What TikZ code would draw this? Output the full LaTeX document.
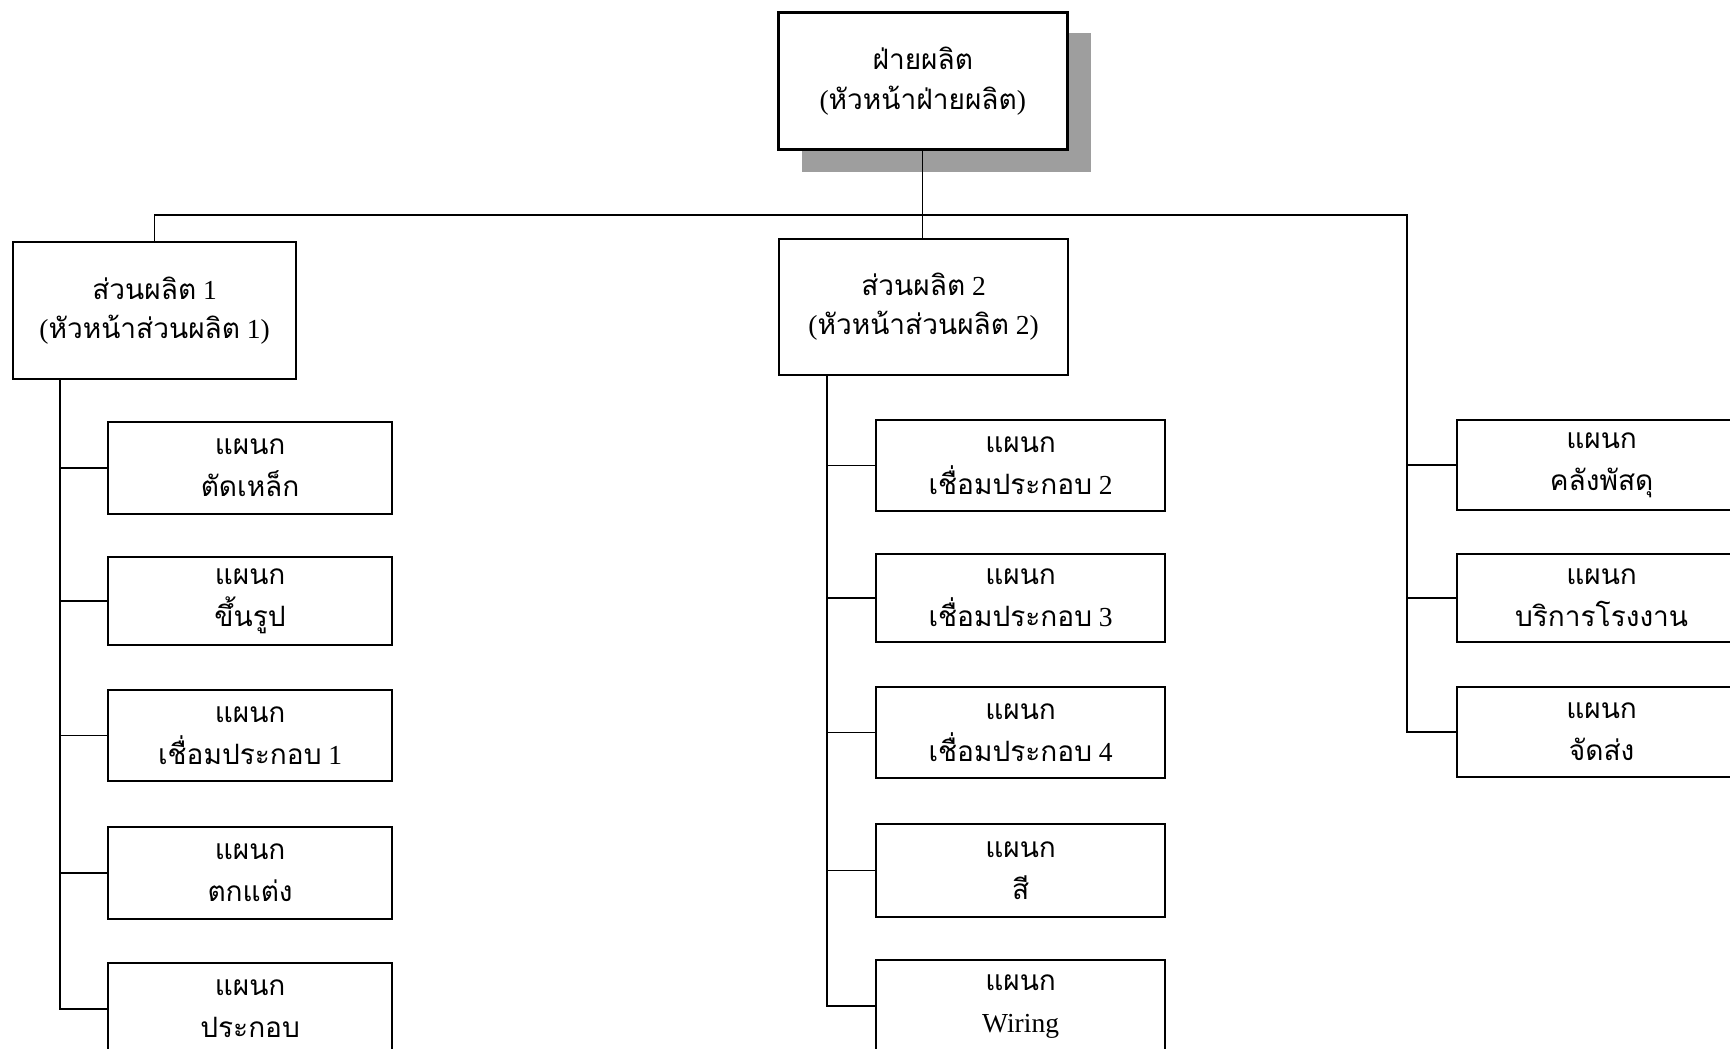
\documentclass[tikz,border=0pt]{standalone}
\usepackage{fontspec}
\setmainfont{Liberation Serif}
\newfontfamily\thai[Script=Thai,Scale=1.02]{Loma}
\newcommand{\tht}[1]{{\thai #1}}
\begin{document}
\begin{tikzpicture}[x=1pt,y=-1pt]
\tikzset{
  unitbox/.style={draw, line width=2.2pt, fill=white, align=center,
    inner sep=0pt, anchor=north west,
    font=\fontsize{27.5}{42}\selectfont},
  headbox/.style={unitbox, line width=2.6pt, font=\fontsize{27.5}{40}\selectfont},
  secbox/.style={unitbox, font=\fontsize{27.5}{39}\selectfont},
  subbox/.style={unitbox},
  link/.style={line width=1.3pt},
  shade/.style={fill=black!38, draw=none}
}
\useasboundingbox (0,0) rectangle (1730,1049);
\clip (0,0) rectangle (1730,1049);

% head of production with its drop shadow
\fill[shade] (802,33) rectangle (1091,172);
\node[headbox, minimum width=289pt, minimum height=137pt] (top) at (777,11)
  {\tht{ฝ่ายผลิต}\\(\tht{หัวหน้าฝ่ายผลิต})};

% production sections
\node[secbox, minimum width=283pt, minimum height=137pt] (prod1) at (12,241)
  {\tht{ส่วนผลิต} 1\\(\tht{หัวหน้าส่วนผลิต} 1)};
\node[secbox, minimum width=289pt, minimum height=136pt] (prod2) at (778,238)
  {\tht{ส่วนผลิต} 2\\(\tht{หัวหน้าส่วนผลิต} 2)};

% departments under section 1
\node[subbox, minimum width=284pt, minimum height=92pt] (a1) at (107,421) {\tht{แผนก}\\\tht{ตัดเหล็ก}};
\node[subbox, minimum width=284pt, minimum height=88pt] (a2) at (107,556) {\tht{แผนก}\\\tht{ขึ้นรูป}};
\node[subbox, minimum width=284pt, minimum height=91pt] (a3) at (107,689) {\tht{แผนก}\\\tht{เชื่อมประกอบ} 1};
\node[subbox, minimum width=284pt, minimum height=92pt] (a4) at (107,826) {\tht{แผนก}\\\tht{ตกแต่ง}};
\node[subbox, minimum width=284pt, minimum height=92pt] (a5) at (107,962) {\tht{แผนก}\\\tht{ประกอบ}};

% departments under section 2
\node[subbox, minimum width=289pt, minimum height=91pt] (b1) at (875,419) {\tht{แผนก}\\\tht{เชื่อมประกอบ} 2};
\node[subbox, minimum width=289pt, minimum height=88pt] (b2) at (875,553) {\tht{แผนก}\\\tht{เชื่อมประกอบ} 3};
\node[subbox, minimum width=289pt, minimum height=91pt] (b3) at (875,686) {\tht{แผนก}\\\tht{เชื่อมประกอบ} 4};
\node[subbox, minimum width=289pt, minimum height=93pt] (b4) at (875,823) {\tht{แผนก}\\\tht{สี}};
\node[subbox, minimum width=289pt, minimum height=92pt] (b5) at (875,959) {\tht{แผนก}\\Wiring};

% departments reporting to the head directly
\node[subbox, minimum width=289pt, minimum height=90pt] (c1) at (1456,419) {\tht{แผนก}\\\tht{คลังพัสดุ}};
\node[subbox, minimum width=289pt, minimum height=88pt] (c2) at (1456,553) {\tht{แผนก}\\\tht{บริการโรงงาน}};
\node[subbox, minimum width=289pt, minimum height=90pt] (c3) at (1456,686) {\tht{แผนก}\\\tht{จัดส่ง}};

% bus lines and spines
\coordinate (bus) at (922,215);
\coordinate (rbus) at (1407,215);
\coordinate (lspine) at (60,0);
\coordinate (mspine) at (827,0);

\draw[link] (top.south) -- (top.south |- prod2.north);
\draw[link] (prod1.north) |- (bus) -- (rbus) -- (rbus |- c3.west) -- (c3.west);
\draw[link] (rbus |- c1.west) -- (c1.west);
\draw[link] (rbus |- c2.west) -- (c2.west);

\draw[link] (lspine |- prod1.south) -- (lspine |- a5.west) -- (a5.west);
\foreach \n in {a1,a2,a3,a4}
  \draw[link] (lspine |- \n.west) -- (\n.west);

\draw[link] (mspine |- prod2.south) -- (mspine |- b5.west) -- (b5.west);
\foreach \n in {b1,b2,b3,b4}
  \draw[link] (mspine |- \n.west) -- (\n.west);
\end{tikzpicture}
\end{document}
